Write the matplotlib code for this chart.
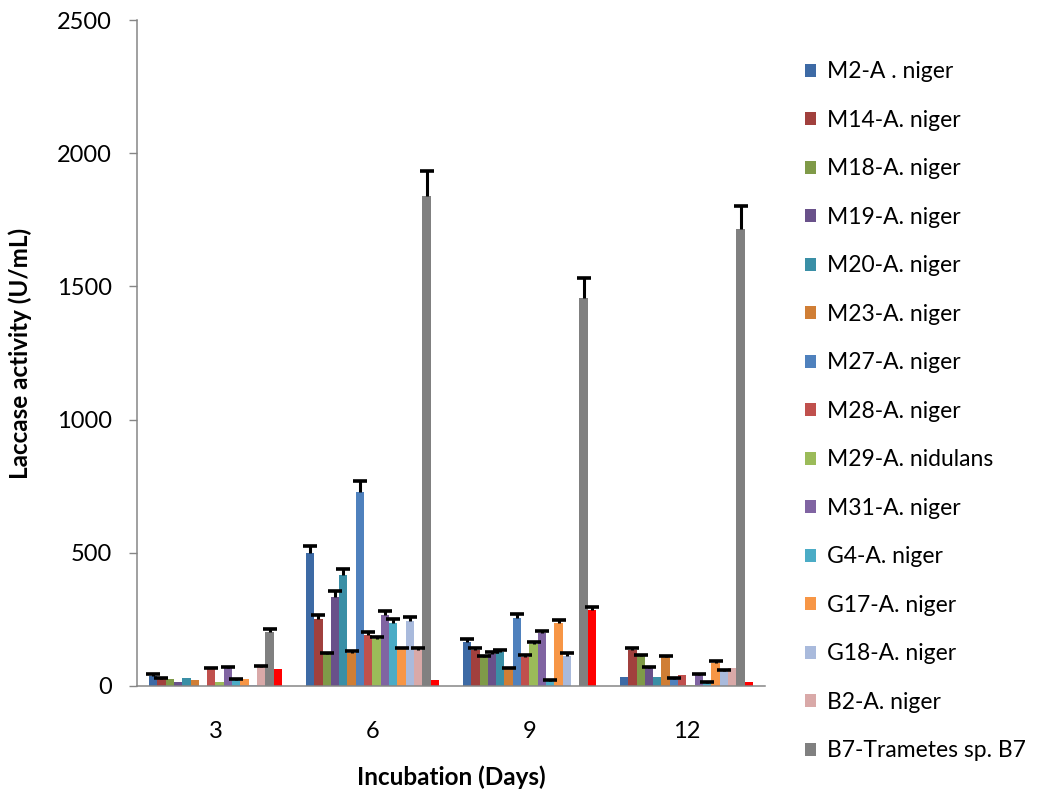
import numpy as np
import matplotlib
matplotlib.use("Agg")
import matplotlib.pyplot as plt

plt.rcParams['font.family'] = ['Lato', 'DejaVu Sans']

days = ['3', '6', '9', '12']

strains = ['M2-A . niger', 'M14-A. niger', 'M18-A. niger', 'M19-A. niger',
           'M20-A. niger', 'M23-A. niger', 'M27-A. niger', 'M28-A. niger',
           'M29-A. nidulans', 'M31-A. niger', 'G4-A. niger', 'G17-A. niger',
           'G18-A. niger', 'B2-A. niger', 'B7-Trametes sp. B7', '_nolegend_']

colors = ['#3D6AA5', '#A1403D', '#7F9A48', '#69518A', '#3A8FA6', '#D07E35',
          '#4F81BD', '#C0504D', '#9BBB59', '#8064A2', '#4BACC6', '#F79646',
          '#A9BADC', '#D9A9A8', '#808080', '#FF0000']

# activity (U/mL) per strain, for days 3, 6, 9, 12
activity = [
    [38, 500, 166, 33],
    [25, 250, 135, 135],
    [27, 120, 108, 113],
    [16, 335, 120, 69],
    [31, 415, 128, 33],
    [23, 125, 66, 107],
    [0, 730, 257, 26],
    [66, 190, 110, 41],
    [14, 175, 157, 3],
    [69, 265, 197, 41],
    [23, 235, 20, 12],
    [27, 142, 235, 85],
    [3, 245, 114, 57],
    [72, 135, 0, 66],
    [201, 1840, 1455, 1715],
    [63, 22, 285, 14],
]

# upper error (nan = no error bar drawn)
nan = np.nan
errors = [
    [7, 25, 10, nan],
    [5, 15, 8, 6],
    [nan, 2, 3, 5],
    [nan, 20, 8, 4],
    [nan, 25, 8, nan],
    [nan, 7, 2, 5],
    [nan, 40, 12, 4],
    [3, 14, 8, nan],
    [nan, 8, 9, nan],
    [3, 15, 9, 4],
    [5, 15, 3, 3],
    [nan, 2, 13, 10],
    [nan, 15, 10, 3],
    [4, 8, nan, nan],
    [14, 93, 78, 88],
    [nan, nan, 12, nan],
]

fig = plt.figure(figsize=(10.4, 7.97), dpi=100)
ax = fig.add_axes([0.1317, 0.1393, 0.6038, 0.8356])

x = np.arange(len(days))
n = len(strains)
w = 0.053

for j in range(n):
    pos = x + (j - (n - 1) / 2) * w
    vals = np.array(activity[j], dtype=float)
    err = np.array(errors[j], dtype=float)
    ax.bar(pos, vals, w, color=colors[j], label=strains[j], zorder=2)
    m = ~np.isnan(err)
    if m.any():
        eb = ax.errorbar(pos[m], vals[m], yerr=[np.zeros(m.sum()), err[m]],
                         fmt='none', ecolor='black', elinewidth=2.2,
                         capsize=4.7, capthick=2.6, zorder=3)
        # only the upper cap, like the excel "plus" error bars
        eb[1][0].set_visible(False)

ax.set_xlim(-0.5, 3.5)
ax.set_ylim(0, 2500)
ax.set_yticks([0, 500, 1000, 1500, 2000, 2500])
ax.set_xticks(x)
ax.set_xticklabels(days)

for s in ['top', 'right']:
    ax.spines[s].set_visible(False)
for s in ['left', 'bottom']:
    ax.spines[s].set_color('#868686')
    ax.spines[s].set_linewidth(1.1)

ax.tick_params(axis='y', direction='out', length=6, width=1, color='#868686',
               labelsize=17, pad=12)
ax.tick_params(axis='x', length=0, labelsize=17, pad=25)

ax.set_xlabel('Incubation (Days)', fontsize=17.5, fontweight='bold', labelpad=17)
ax.set_ylabel('Laccase activity (U/mL)', fontsize=17.5, fontweight='bold', labelpad=18)

ax.legend(loc='upper left', bbox_to_anchor=(0.774, 0.923),
          bbox_transform=fig.transFigure, frameon=False, fontsize=16.5,
          handlelength=0.5, handleheight=0.5, handletextpad=0.45,
          labelspacing=1.2, borderpad=0, borderaxespad=0)

fig.savefig('out.png', dpi=100)
